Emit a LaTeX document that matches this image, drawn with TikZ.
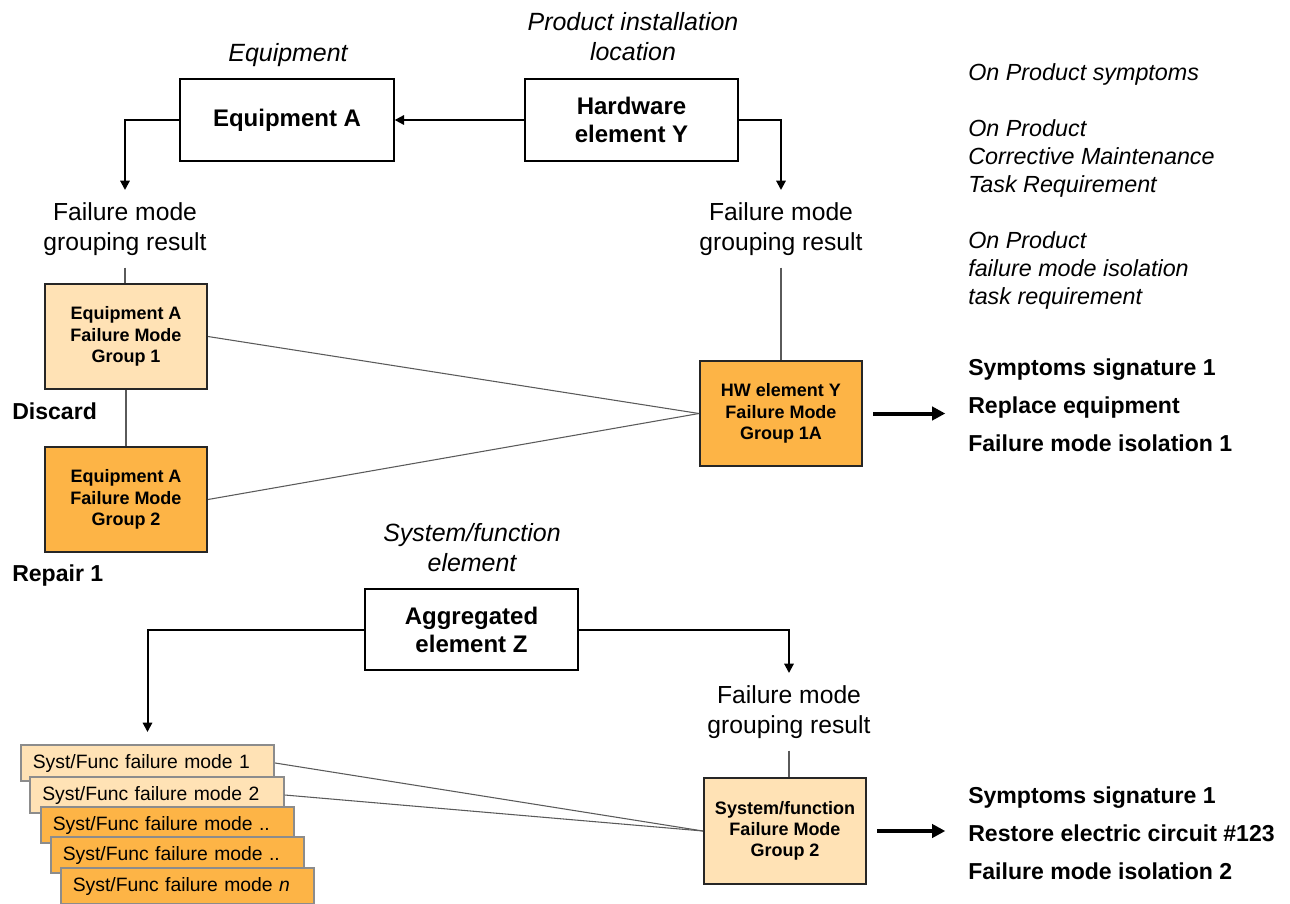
\documentclass[tikz,border=0pt]{standalone}
\usepackage{fontspec}
\setmainfont{Liberation Sans}
\usepackage{xcolor}
\usetikzlibrary{arrows.meta}

\definecolor{fmlight}{HTML}{FFE2B5}
\definecolor{fmdark}{HTML}{FDB446}
\definecolor{linkgray}{HTML}{5A5A5A}
\definecolor{stackgray}{HTML}{8C8C8C}

\tikzset{
  elem/.style={draw, line width=1.5pt, align=center, inner sep=0pt,
    font=\fontsize{18}{21}\selectfont\bfseries,
    minimum width=160pt, minimum height=61.5pt},
  fmgroup/.style={draw=black!85, line width=1.5pt, align=center, inner sep=0pt,
    font=\fontsize{13.5}{16}\selectfont\bfseries,
    minimum width=121.5pt, minimum height=79pt},
  fmitem/.style={draw=stackgray, line width=1.5pt, align=left,
    font=\fontsize{14.5}{18}\selectfont, text width=172pt,
    inner xsep=9pt, inner ysep=0pt, minimum height=27pt},
  kind/.style={font=\fontsize{18.7}{22.5}\selectfont\itshape, align=center},
  result/.style={font=\fontsize{18.5}{22.5}\selectfont, align=center, inner ysep=9pt},
  action/.style={font=\fontsize{17.3}{28.5}\selectfont\bfseries, align=left,
    anchor=west, inner sep=0pt},
  note/.style={font=\fontsize{17.5}{21}\selectfont\itshape, align=left,
    anchor=north west, inner sep=0pt},
  arr/.style={line width=1.5pt, -{Triangle[length=7pt,width=7pt]}},
  bigarr/.style={line width=3pt, -{Triangle[length=10pt,width=10pt]},
    shorten <=7.5pt, shorten >=17pt},
  link/.style={linkgray, line width=0.8pt},
}

\begin{document}
\begin{tikzpicture}[x=0.75pt,y=-0.75pt]
  \useasboundingbox (0,0) rectangle (1290,904);

  \node[kind] (eqKind) at (288,55) {Equipment};
  \node[elem] (eqA) at (287,120) {Equipment A};
  \node[kind] (hwKind) at (633,37) {Product installation\\location};
  \node[elem] (hwY) at (631.5,120) {Hardware\\element Y};

  \node[result, anchor=north] (eqRes) at (125,190) {Failure mode\\grouping result};
  \node[result, anchor=north] (hwRes) at (781,190) {Failure mode\\grouping result};

  \node[note] (notes) at (968,63) {On Product symptoms\\[21pt]On Product\\Corrective Maintenance\\Task Requirement\\[21pt]On Product\\failure mode isolation\\task requirement};

  \node[fmgroup, fill=fmlight] (eqGrp1) at (126,336.5) {Equipment A\\Failure Mode\\Group 1};
  \node[fmgroup, fill=fmdark] (eqGrp2) at (126,499.5) {Equipment A\\Failure Mode\\Group 2};
  \node[fmgroup, fill=fmdark] (hwGrp) at (781,413.5) {HW element Y\\Failure Mode\\Group 1A};
  \node[action] (discard) at (12,411) {Discard};
  \node[action] (repair) at (12,576) {Repair 1};
  \node[action] (hwAct) at (968,405) {Symptoms signature 1\\Replace equipment\\Failure mode isolation 1};

  \node[kind] (sysKind) at (472,548) {System/function\\element};
  \node[elem, minimum height=60.75pt] (aggZ) at (471.5,629.5) {Aggregated\\element Z};
  \node[result, anchor=north] (sysRes) at (789,673) {Failure mode\\grouping result};
  \node[fmgroup, fill=fmlight, minimum height=79.5pt] (sysGrp) at (785,831) {System/function\\Failure Mode\\Group 2};
  \node[action] (sysAct) at (968,833.5) {Symptoms signature 1\\Restore electric circuit \#123\\Failure mode isolation 2};

  \foreach \k/\cx/\cy/\shade/\tag in {1/147.5/763/fmlight/1, 2/157/795/fmlight/2,
      3/167.5/825/fmdark/.., 4/177.5/855/fmdark/.., 5/187.5/886/fmdark/\textit{n}}
    \node[fmitem, fill=\shade] (mode\k) at (\cx,\cy) {Syst/Func failure mode \tag};

  \draw[arr] (hwY.west) -- (eqA.east);
  \draw[arr] (eqA.west) -| (eqRes.north);
  \draw[arr] (hwY.east) -| (hwRes.north);
  \draw[link] (eqRes.south) -- (eqRes.south |- eqGrp1.north);
  \draw[link] (eqGrp1.south) -- (eqGrp2.north);
  \draw[link] (hwRes.south) -- (hwRes.south |- hwGrp.north);
  \draw[link] (eqGrp1.east) -- (hwGrp.west);
  \draw[link] (eqGrp2.east) -- (hwGrp.west);
  \draw[bigarr] (hwGrp.east) -- (hwGrp.east -| hwAct.west);

  \draw[arr, shorten >=9pt] (aggZ.west) -| (mode1.north);
  \draw[arr] (aggZ.east) -| (sysRes.north);
  \draw[link] (sysRes.south) -- (sysRes.south |- sysGrp.north);
  \draw[link] (mode1.east) -- (sysGrp.west);
  \draw[link] (mode2.east) -- (sysGrp.west);
  \draw[bigarr] (sysGrp.east) -- (sysGrp.east -| sysAct.west);
\end{tikzpicture}
\end{document}
